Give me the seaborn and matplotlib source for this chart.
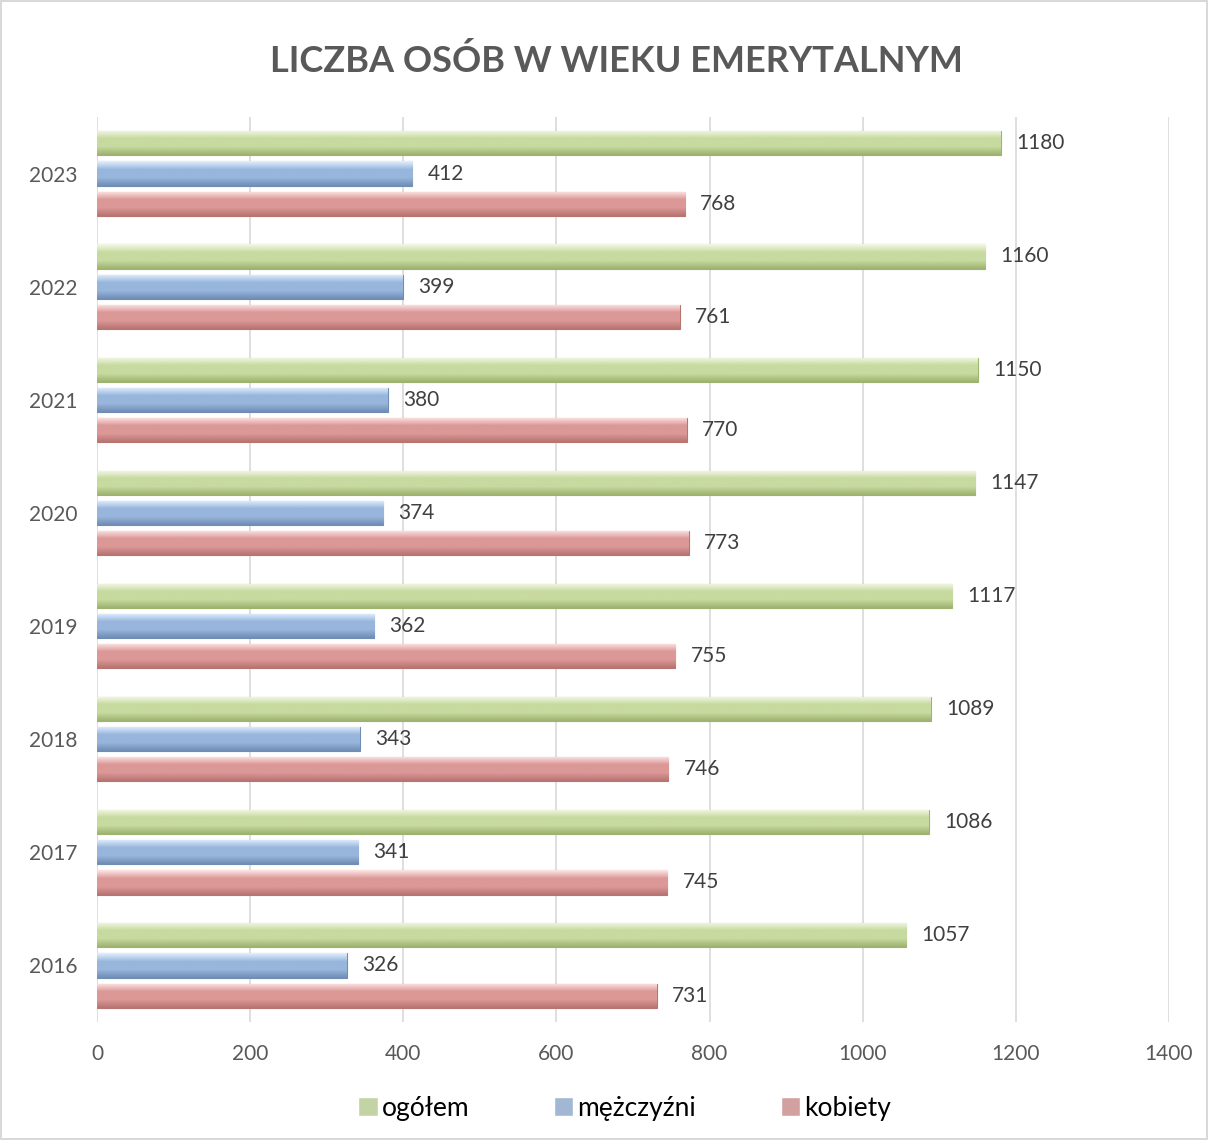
import matplotlib
matplotlib.use("Agg")
import matplotlib.pyplot as plt
import numpy as np
import pandas as pd
import seaborn as sns
from matplotlib.colors import LinearSegmentedColormap

# dane
years = [2016, 2017, 2018, 2019, 2020, 2021, 2022, 2023]
ogolem = [1057, 1086, 1089, 1117, 1147, 1150, 1160, 1180]
mezczyzni = [326, 341, 343, 362, 374, 380, 399, 412]
kobiety = [731, 745, 746, 755, 773, 770, 761, 768]
series = ["ogółem", "mężczyźni", "kobiety"]

df = pd.DataFrame({
    "rok": [str(y) for y in years] * 3,
    "liczba": ogolem + mezczyzni + kobiety,
    "grupa": [series[0]] * 8 + [series[1]] * 8 + [series[2]] * 8,
})

# kolory: jasny / bazowy / ciemny
shades = {
    "ogółem": ("#f3f8e6", "#c7da9f", "#9db36f"),
    "mężczyźni": ("#e3efff", "#98b6dc", "#6f8db5"),
    "kobiety": ("#fde6e5", "#db9896", "#b77471"),
}
palette = {k: v[1] for k, v in shades.items()}

sns.set_style("white")
plt.rcParams["font.family"] = ["Lato", "DejaVu Sans"]

fig = plt.figure(figsize=(12.08, 11.40), dpi=100)
fig.patch.set_edgecolor("#d9d9d9")
fig.patch.set_linewidth(1.5)
ax = fig.add_axes([0.0803, 0.1035, 0.8874, 0.7939])

sns.barplot(data=df, x="liczba", y="rok", hue="grupa", orient="h",
            order=[str(y) for y in years[::-1]], hue_order=series,
            palette=palette, gap=0.2, ax=ax, legend=True)

ax.set_xlim(0, 1400)
ylim = ax.get_ylim()
ax.set_xticks(range(0, 1401, 200))
ax.grid(axis="x", color="#d9d9d9", linewidth=1.2)
ax.set_axisbelow(True)
for s in ax.spines.values():
    s.set_visible(False)
ax.set_xlabel("")
ax.set_ylabel("")
ax.tick_params(axis="both", length=0, labelsize=15, colors="#595959")
ax.tick_params(axis="y", pad=14)
ax.tick_params(axis="x", pad=16)

# gradient na slupkach (efekt wypuklosci)
for cont, name in zip(ax.containers, series):
    cmap = LinearSegmentedColormap.from_list(name, [shades[name][0], shades[name][1],
                                                    shades[name][1], shades[name][2]])
    grad = np.linspace(0, 1, 64).reshape(-1, 1)
    for p in cont.patches:
        x0, y0 = p.get_x(), p.get_y()
        w, h = p.get_width(), p.get_height()
        im = ax.imshow(grad, cmap=cmap, aspect="auto", origin="upper",
                       extent=(x0, x0 + w, y0 + h, y0), zorder=p.get_zorder() + 0.1)
        im.set_clip_path(p)
        p.set_edgecolor(shades[name][2])
        p.set_linewidth(0.8)
    ax.bar_label(cont, padding=11, fontsize=15, color="#404040")

ax.set_ylim(ylim)
ax.set_xlim(0, 1400)

handles, labels = ax.get_legend_handles_labels()
ax.get_legend().remove()
fig.legend(handles, labels, loc="center", bbox_to_anchor=(0.517, 0.028), ncol=3,
           frameon=False, fontsize=19, handlelength=0.75, handleheight=0.75,
           handletextpad=0.15, columnspacing=3.2, labelcolor="#000000")

fig.suptitle("LICZBA OSÓB W WIEKU EMERYTALNYM", x=0.51, y=0.961, fontsize=26,
             fontweight="bold", color="#595959")

fig.savefig("out.png", dpi=100)
